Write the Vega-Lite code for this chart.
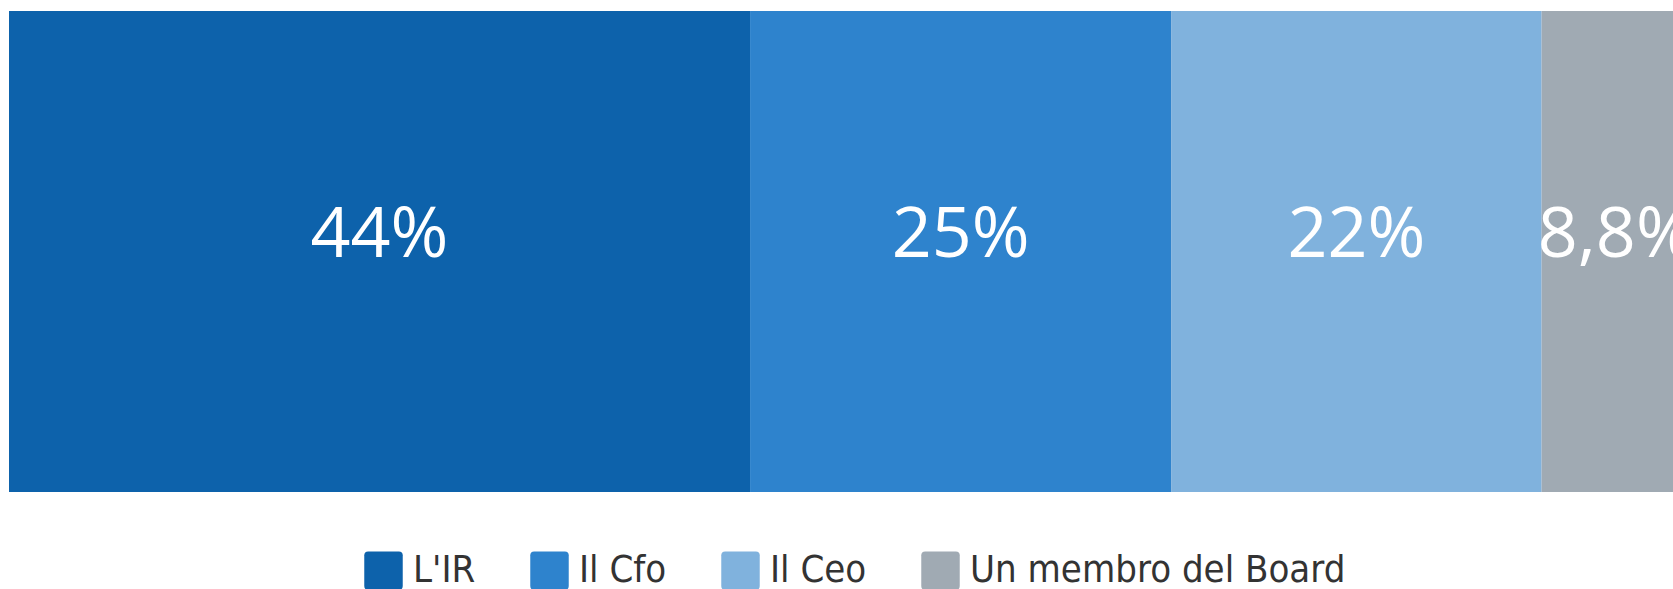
{
  "$schema": "https://vega.github.io/schema/vega-lite/v6.json",
  "autosize": "none",
  "width": 1664,
  "height": 481,
  "padding": {"left": 9, "top": 11, "right": 0, "bottom": 97},
  "background": "white",
  "config": {"view": {"stroke": null}},
  "data": {
    "values": [
      {"category": "L'IR", "value": 44.0, "label": "44%", "order": 1},
      {"category": "Il Cfo", "value": 25.0, "label": "25%", "order": 2},
      {"category": "Il Ceo", "value": 22.0, "label": "22%", "order": 3},
      {"category": "Un membro del Board", "value": 8.8, "label": "8,8%", "order": 4}
    ]
  },
  "transform": [
    {"stack": "value", "groupby": [], "sort": [{"field": "order"}], "as": ["x0", "x1"]},
    {"calculate": "(datum.x0 + datum.x1) / 2", "as": "mid"}
  ],
  "layer": [
    {
      "mark": {"type": "bar", "clip": true},
      "encoding": {
        "x": {"field": "x0", "type": "quantitative", "scale": {"domain": [0, 98.8], "nice": false, "zero": false}, "axis": null},
        "x2": {"field": "x1"},
        "y": {"value": 0},
        "y2": {"value": "height"},
        "color": {
          "field": "category",
          "type": "nominal",
          "sort": ["L'IR", "Il Cfo", "Il Ceo", "Un membro del Board"],
          "scale": {
            "domain": ["L'IR", "Il Cfo", "Il Ceo", "Un membro del Board"],
            "range": ["#0d62ab", "#2e83cd", "#80b2dd", "#a0aab3"]
          },
          "legend": {
            "title": null,
            "orient": "none",
            "direction": "horizontal",
            "legendX": 355,
            "legendY": 540,
            "padding": 0,
            "symbolType": "M-0.8,-1H0.8Q1,-1 1,-0.8V0.8Q1,1 0.8,1H-0.8Q-1,1 -1,0.8V-0.8Q-1,-1 -0.8,-1Z",
            "symbolSize": 1480,
            "symbolStrokeWidth": 0,
            "symbolOpacity": 1,
            "labelFont": "DejaVu Sans Condensed, sans-serif",
            "labelFontSize": 38,
            "labelColor": "#333333",
            "labelOffset": 10,
            "labelLimit": 600,
            "columnPadding": 54
          }
        }
      }
    },
    {
      "mark": {"type": "text", "clip": true, "color": "white", "font": "Open Sans", "fontSize": 70, "baseline": "alphabetic", "align": "center", "dy": 5},
      "encoding": {
        "x": {"field": "mid", "type": "quantitative"},
        "text": {"field": "label", "type": "nominal"}
      }
    }
  ]
}
